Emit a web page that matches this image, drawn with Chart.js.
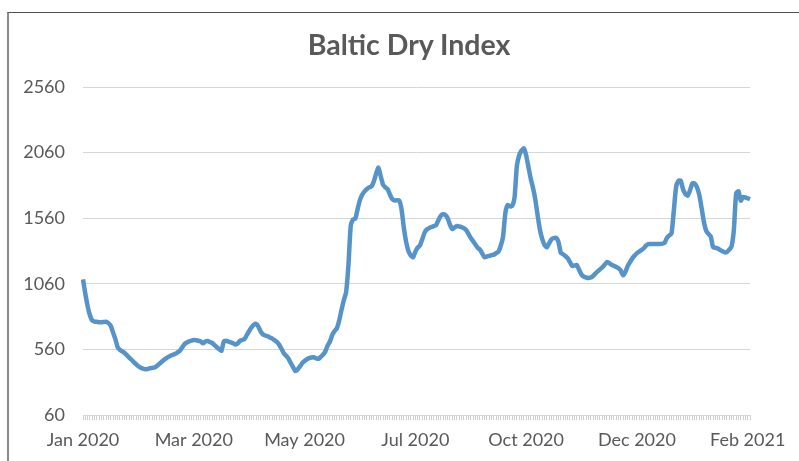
<!DOCTYPE html>
<html>
<head>
<meta charset="utf-8">
<title>Baltic Dry Index</title>
<script src="https://cdn.jsdelivr.net/npm/chart.js@4.4.1/dist/chart.umd.min.js"></script>
<style>
    html, body { margin: 0; padding: 0; background: #fff; overflow: hidden; }
    #frame {
        position: absolute;
        left: 7px;
        top: 12px;
        border-top: 1px solid #505050;
        border-left: 2px solid #8c8c8c;
    }
    #bdi-chart { display: block; }
    #chart-title {
        position: absolute;
        left: 0;
        top: 14px;
        width: 800px;
        text-align: center;
        font: bold 28.5px Lato, 'Open Sans', sans-serif;
        line-height: 34px;
        color: #595959;
    }
</style>
</head>
<body>
<div id="frame">
    <canvas id="bdi-chart" width="800" height="460" style="width:800px;height:460px"></canvas>
    <div id="chart-title"></div>
</div>
<script>
// --- Data ---
const chartTitle = 'Baltic Dry Index';
const tickLabels = ['Jan 2020', 'Mar 2020', 'May 2020', 'Jul 2020', 'Oct 2020', 'Dec 2020', 'Feb 2021'];
const labelEvery = 48; // one label every 48 trading days
const yTicks = [60, 560, 1060, 1560, 2060, 2560];

// daily index values, Jan 2020 -> Feb 2021
const bdi = [
    1094, 985, 890, 820, 780, 772, 770, 767, 767, 769,
    771, 760, 740, 690, 640, 578, 556, 545, 533, 516,
    498, 481, 463, 447, 432, 420, 413, 408, 411, 416,
    419, 422, 434, 449, 464, 479, 492, 503, 512, 519,
    527, 538, 550, 575, 601, 613, 621, 627, 631, 630,
    626, 620, 607, 620, 624, 616, 609, 592, 576, 562,
    550, 619, 625, 620, 614, 607, 597, 606, 625, 632,
    640, 670, 700, 728, 748, 755, 733, 695, 673, 666,
    660, 651, 642, 630, 618, 596, 565, 530, 512, 490,
    457, 425, 395, 408, 430, 455, 472, 485, 494, 498,
    500, 492, 488, 503, 520, 545, 590, 620, 670, 700,
    721, 780, 860, 935, 995, 1200, 1500, 1550, 1557, 1630,
    1700, 1740, 1765, 1783, 1795, 1803, 1840, 1900, 1945, 1880,
    1815, 1795, 1780, 1740, 1705, 1695, 1697, 1695, 1630, 1490,
    1380, 1310, 1276, 1262, 1305, 1335, 1352, 1400, 1450, 1475,
    1485, 1493, 1500, 1507, 1545, 1578, 1590, 1585, 1560, 1510,
    1478, 1490, 1500, 1497, 1492, 1485, 1470, 1440, 1410, 1385,
    1360, 1335, 1320, 1290, 1262, 1268, 1273, 1279, 1282, 1294,
    1305, 1350, 1420, 1600, 1660, 1650, 1655, 1720, 1960, 2040,
    2075, 2092, 2040, 1950, 1860, 1790, 1700, 1580, 1470, 1400,
    1355, 1338, 1370, 1400, 1408, 1410, 1380, 1297, 1285, 1272,
    1255, 1225, 1196, 1200, 1203, 1165, 1130, 1114, 1108, 1104,
    1108, 1120, 1138, 1155, 1170, 1185, 1205, 1226, 1218, 1205,
    1197, 1189, 1178, 1162, 1125, 1150, 1195, 1225, 1254, 1275,
    1294, 1305, 1318, 1331, 1352, 1363, 1363, 1363, 1363, 1363,
    1363, 1366, 1373, 1410, 1428, 1445, 1620, 1800, 1845, 1845,
    1780, 1745, 1732, 1772, 1825, 1825, 1797, 1740, 1640, 1535,
    1465, 1440, 1420, 1340, 1334, 1330, 1318, 1308, 1300, 1302,
    1320, 1345, 1470, 1750, 1765, 1694, 1722, 1718, 1712, 1704
];
const days = bdi.map((_, i) => i); // category per trading day

const textColor = '#595959';
const gridColor = '#d6d6d6';
const fontFamily = "Lato, 'Open Sans', sans-serif";

document.addEventListener('DOMContentLoaded', () => {
    // title sits over the whole frame (which runs past the right edge), so it is plain text here
    document.getElementById('chart-title').textContent = chartTitle;

    const ctx = document.getElementById('bdi-chart').getContext('2d');

    new Chart(ctx, {
        type: 'line',
        data: {
            labels: days,
            datasets: [{
                label: chartTitle,
                data: bdi,
                borderColor: '#5593c9',
                borderWidth: 4.5,
                pointRadius: 0,
                tension: 0.2,
                fill: false
            }]
        },
        options: {
            responsive: false,
            animation: false,
            layout: { padding: { left: 0, right: 59, top: 74, bottom: 0 } },
            plugins: {
                legend: { display: false },
                tooltip: { enabled: false },
                title: { display: false }
            },
            scales: {
                x: {
                    type: 'category',
                    offset: false,
                    grid: {
                        drawOnChartArea: false,
                        drawTicks: true,
                        tickLength: 5,
                        tickColor: '#cfcfcf',
                        lineWidth: 1
                    },
                    border: { display: true, color: gridColor },
                    ticks: {
                        autoSkip: false,
                        maxRotation: 0,
                        minRotation: 0,
                        padding: 9,
                        color: textColor,
                        font: { family: fontFamily, size: 18 },
                        callback: (value, index) => {
                            // only every 48th day gets a label, the rest keep just the tick mark
                            if (index % labelEvery !== 0) return '';
                            return tickLabels[index / labelEvery] || '';
                        }
                    },
                    afterFit: (scale) => { scale.height = 58; }
                },
                y: {
                    min: yTicks[0],
                    max: yTicks[yTicks.length - 1],
                    afterBuildTicks: (scale) => {
                        scale.ticks = yTicks.map(v => ({ value: v }));
                    },
                    grid: { color: gridColor, drawTicks: false, lineWidth: 1 },
                    border: { display: false },
                    ticks: {
                        padding: 18,
                        color: textColor,
                        font: { family: fontFamily, size: 18 },
                        callback: (value) => String(value)
                    },
                    afterFit: (scale) => { scale.width = 74; }
                }
            }
        }
    });
});
</script>
</body>
</html>
